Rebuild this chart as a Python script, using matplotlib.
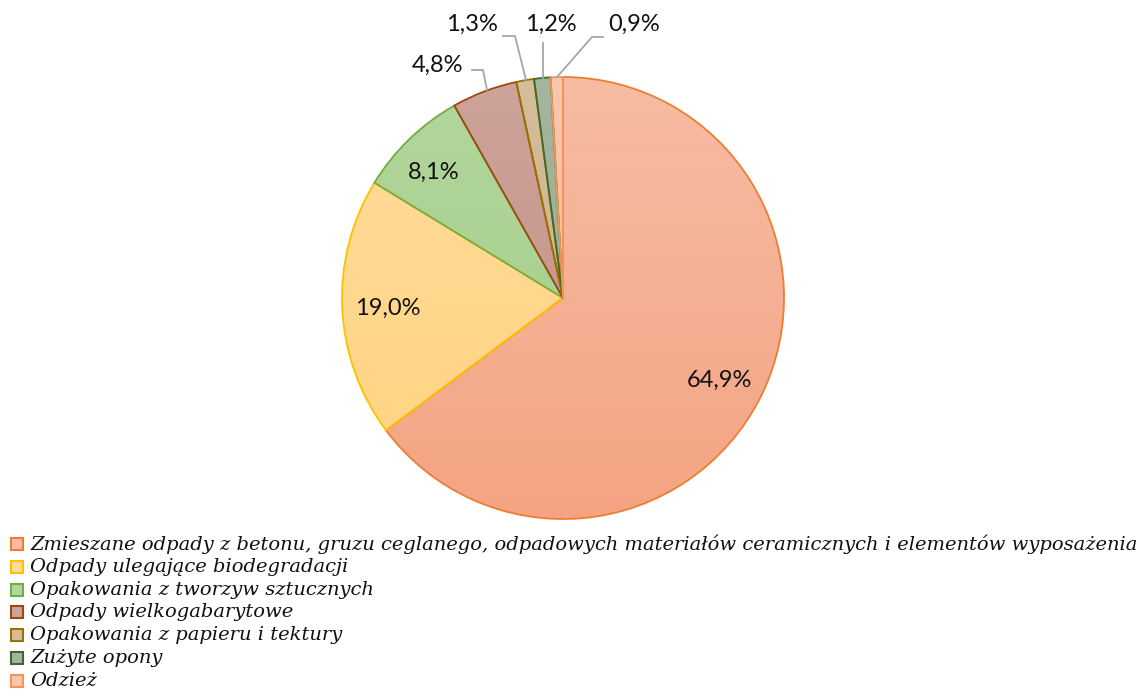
import matplotlib
matplotlib.use("Agg")
import matplotlib.pyplot as plt
import numpy as np
from matplotlib.patches import Rectangle
from matplotlib.colors import LinearSegmentedColormap, to_rgb

categories = [
    "Zmieszane odpady z betonu, gruzu ceglanego, odpadowych materiałów ceramicznych i elementów wyposażenia",
    "Odpady ulegające biodegradacji",
    "Opakowania z tworzyw sztucznych",
    "Odpady wielkogabarytowe",
    "Opakowania z papieru i tektury",
    "Zużyte opony",
    "Odzież",
]
values = [64.9, 19.0, 8.1, 4.8, 1.3, 1.2, 0.9]
labels = ["64,9%", "19,0%", "8,1%", "4,8%", "1,3%", "1,2%", "0,9%"]

edge_colors = ["#ED7D31", "#FFC000", "#70AD47", "#9E480E", "#997300", "#43682B", "#F1975A"]
top_colors = ["#F7BCA3", "#FFDB9B", "#B3D69D", "#CDA39A", "#D6BD9B", "#A4B5A0", "#F9C6AE"]
bot_colors = ["#F4A483", "#FFD480", "#A1CC85", "#C28E83", "#C9AE85", "#95A98F", "#F7B596"]

W, H = 1145, 699
fig = plt.figure(figsize=(W / 100, H / 100), dpi=100)
cx, cy, r = 563, 298, 221
ax = fig.add_axes([(cx - r) / W, (H - cy - r) / H, 2 * r / W, 2 * r / H])
ax.axis("off")

wedges, _ = ax.pie(values, startangle=90, counterclock=False, radius=1,
                   wedgeprops=dict(linewidth=1.3), center=(0, 0))
ax.set_xlim(-1, 1)
ax.set_ylim(-1, 1)
grad = np.linspace(0, 1, 256).reshape(-1, 1)
for w, ec, tc, bc in zip(wedges, edge_colors, top_colors, bot_colors):
    cmap = LinearSegmentedColormap.from_list("g", [to_rgb(tc), to_rgb(bc)])
    im = ax.imshow(grad, cmap=cmap, extent=(-1, 1, -1, 1), origin="upper",
                   aspect="auto", zorder=1)
    im.set_clip_path(w)
    w.set_facecolor("none")
    w.set_edgecolor(ec)
    w.set_zorder(3)
ax.set_xlim(-1, 1)
ax.set_ylim(-1, 1)

def px(x, y):
    return ((x - cx) / r, (cy - y) / r)

lab_font = dict(family="Lato", fontsize=17, color="#111111")
inside = {0: (719, 380), 1: (388, 308), 2: (434, 172)}
for i, (x, y) in inside.items():
    ax.text(*px(x, y), labels[i], ha="center", va="center", **lab_font)

outside = {3: (438, 65), 4: (472, 24), 5: (551, 24), 6: (634, 24)}
for i, (x, y) in outside.items():
    ax.text(*px(x, y), labels[i], ha="center", va="center", clip_on=False, **lab_font)

leaders = {
    3: [(472, 70), (483, 70), (487, 90)],
    4: [(503, 36), (515, 36), (526, 80)],
    5: [(543, 43), (543, 78)],
    6: [(603, 37), (592, 37), (557, 77)],
}
for i, pts in leaders.items():
    xs, ys = zip(*[px(x, y) for x, y in pts])
    ax.plot(xs, ys, color="#A6A6A6", lw=1.3, clip_on=False, zorder=4)

# legend
leg_font = dict(family="DejaVu Serif", style="italic", fontsize=14, color="#111111")
y0, dy = 544, 22.8
texts = []
for i, (cat, ec, tc) in enumerate(zip(categories, edge_colors, top_colors)):
    yc = y0 + i * dy
    fig.patches.append(Rectangle((11 / W, (H - yc - 6) / H), 12 / W, 12 / H,
                                 transform=fig.transFigure, facecolor=tc,
                                 edgecolor=ec, lw=1.5))
    texts.append(fig.text(30 / W, (H - yc) / H, cat, ha="left", va="center", **leg_font))

renderer = fig.canvas.get_renderer()
wpx = texts[0].get_window_extent(renderer).width
fs = 14 * 1110 / wpx
for t in texts:
    t.set_fontsize(fs)

fig.savefig("out.png", dpi=100)
